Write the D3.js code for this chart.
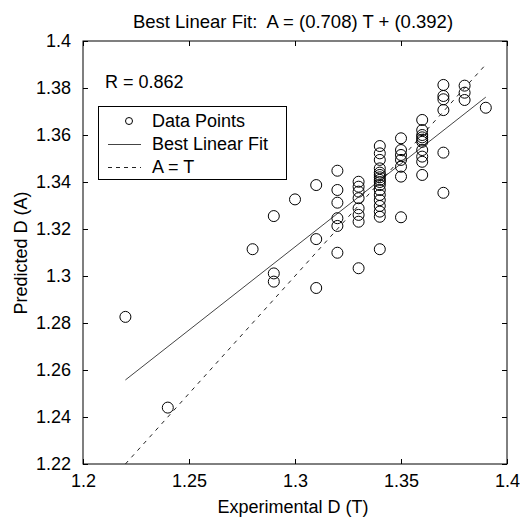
<!DOCTYPE html>
<html>
<head>
<meta charset="utf-8">
<script src="https://cdn.jsdelivr.net/npm/d3@7"></script>
<style>
  body { margin: 0; background: #fff; }
  svg { display: block; font-family: "Liberation Sans", Arial, sans-serif; }
</style>
</head>
<body>
<svg id="chart"></svg>
<script>
// experimental D (T) and predicted D (A)
var expT = [
  1.22, 1.24, 1.28,
  1.29, 1.29, 1.29,
  1.30,
  1.31, 1.31, 1.31,
  1.32, 1.32, 1.32, 1.32, 1.32, 1.32,
  1.33, 1.33, 1.33, 1.33, 1.33, 1.33, 1.33, 1.33,
  1.34, 1.34, 1.34, 1.34, 1.34, 1.34, 1.34, 1.34, 1.34, 1.34, 1.34, 1.34, 1.34, 1.34, 1.34, 1.34, 1.34,
  1.35, 1.35, 1.35, 1.35, 1.35, 1.35, 1.35,
  1.36, 1.36, 1.36, 1.36, 1.36, 1.36, 1.36, 1.36, 1.36, 1.36,
  1.37, 1.37, 1.37, 1.37, 1.37, 1.37,
  1.38, 1.38, 1.38,
  1.39
];
var predA = [
  1.2826, 1.2440, 1.3114,
  1.3255, 1.3011, 1.2976,
  1.3326,
  1.3387, 1.3157, 1.2949,
  1.3448, 1.3366, 1.3312, 1.3246, 1.3213, 1.3099,
  1.3401, 1.3380, 1.3359, 1.3331, 1.3288, 1.3260, 1.3231, 1.3033,
  1.3553, 1.3522, 1.3494, 1.3458, 1.3440, 1.3430, 1.3420, 1.3409, 1.3400, 1.3387, 1.3366, 1.3345, 1.3323, 1.3298, 1.3274, 1.3252, 1.3114,
  1.3586, 1.3536, 1.3515, 1.3494, 1.3465, 1.3423, 1.3250,
  1.3664, 1.3621, 1.3600, 1.3590, 1.3580, 1.3571, 1.3536, 1.3508, 1.3486, 1.3430,
  1.3813, 1.3766, 1.3752, 1.3706, 1.3525, 1.3354,
  1.3810, 1.3780, 1.3749,
  1.3716
];
var xTicks = [1.2, 1.25, 1.3, 1.35, 1.4];
var yTicks = [1.22, 1.24, 1.26, 1.28, 1.3, 1.32, 1.34, 1.36, 1.38, 1.4];
var fitSlope = 0.708, fitIntercept = 0.392, rValue = 0.862;
var fitRange = [1.22, 1.39];
var legendLabels = ["Data Points", "Best Linear Fit", "A = T"];

var svgWidth = 520, svgHeight = 519;
var plotL = 83, plotR = 507, plotT = 41, plotB = 464;
var fontSize = 18, tickLen = 5;

var svg = d3.select('#chart')
  .attr("width", svgWidth)
  .attr("height", svgHeight);

var xScale = d3.scaleLinear().domain([1.2, 1.4]).range([plotL, plotR]);
var yScale = d3.scaleLinear().domain([1.22, 1.4]).range([plotB, plotT]);

// axes, ticks inside on all four sides (matlab box)
var fmt = function(d){ return String(+d.toFixed(2)); };

svg.append("g")
  .attr("transform", `translate(0,${plotB})`)
  .call(d3.axisBottom(xScale).tickValues(xTicks).tickSizeInner(-tickLen).tickSizeOuter(0).tickPadding(10).tickFormat(fmt));
svg.append("g")
  .attr("transform", `translate(0,${plotT})`)
  .call(d3.axisTop(xScale).tickValues(xTicks).tickSizeInner(-tickLen).tickSizeOuter(0).tickFormat(""));
svg.append("g")
  .attr("transform", `translate(${plotL},0)`)
  .call(d3.axisLeft(yScale).tickValues(yTicks).tickSizeInner(-tickLen).tickSizeOuter(0).tickPadding(12).tickFormat(fmt));
svg.append("g")
  .attr("transform", `translate(${plotR},0)`)
  .call(d3.axisRight(yScale).tickValues(yTicks).tickSizeInner(-tickLen).tickSizeOuter(0).tickFormat(""));

svg.selectAll(".domain").remove();
svg.selectAll(".tick line").attr("stroke", "#000");
svg.selectAll(".tick text")
  .attr("font-family", "Liberation Sans, Arial, sans-serif")
  .attr("font-size", fontSize)
  .attr("fill", "#000");

svg.append("rect")
  .attr("x", plotL).attr("y", plotT)
  .attr("width", plotR - plotL).attr("height", plotB - plotT)
  .attr("fill", "none").attr("stroke", "#000").attr("stroke-width", 1);

// A = T reference line
svg.append("line")
  .attr("x1", xScale(fitRange[0])).attr("y1", yScale(fitRange[0]))
  .attr("x2", xScale(fitRange[1])).attr("y2", yScale(fitRange[1]))
  .attr("stroke", "#222").attr("stroke-dasharray", "4,5");

// best linear fit
svg.append("line")
  .attr("x1", xScale(fitRange[0])).attr("y1", yScale(fitSlope * fitRange[0] + fitIntercept))
  .attr("x2", xScale(fitRange[1])).attr("y2", yScale(fitSlope * fitRange[1] + fitIntercept))
  .attr("stroke", "#444");

// data points
svg.selectAll("circle.pt")
  .data(expT)
  .enter()
  .append("circle")
  .attr("class", "pt")
  .attr("cx", function(d){ return xScale(d); })
  .attr("cy", function(d, i){ return yScale(predA[i]); })
  .attr("r", 5.5)
  .attr("fill", "none")
  .attr("stroke", "#000");

// R text
svg.append("text")
  .attr("x", 105).attr("y", 88)
  .attr("font-size", fontSize)
  .text("R = " + rValue);

// legend
var lg = svg.append("g");
lg.append("rect")
  .attr("x", 98.5).attr("y", 106.5)
  .attr("width", 188).attr("height", 73)
  .attr("fill", "#fff").attr("stroke", "#000");
lg.selectAll("text")
  .data(legendLabels)
  .enter()
  .append("text")
  .attr("x", 152)
  .attr("y", function(d, i){ return 127 + i * 23; })
  .attr("font-size", fontSize)
  .text(function(d){ return d; });
lg.append("circle")
  .attr("cx", 129).attr("cy", 121).attr("r", 3.5)
  .attr("fill", "none").attr("stroke", "#000");
lg.append("line")
  .attr("x1", 108).attr("x2", 141).attr("y1", 144.5).attr("y2", 144.5)
  .attr("stroke", "#444");
lg.append("line")
  .attr("x1", 108).attr("x2", 141).attr("y1", 167.5).attr("y2", 167.5)
  .attr("stroke", "#222").attr("stroke-dasharray", "4,4");

// title and axis labels
svg.append("text")
  .attr("x", 293).attr("y", 28)
  .attr("text-anchor", "middle")
  .attr("font-size", 18.5)
  .attr("xml:space", "preserve")
  .text("Best Linear Fit:  A = (" + fitSlope + ") T + (" + fitIntercept + ")");
svg.append("text")
  .attr("x", 293).attr("y", 513)
  .attr("text-anchor", "middle")
  .attr("font-size", fontSize)
  .text("Experimental D (T)");
svg.append("text")
  .attr("transform", "translate(27,253) rotate(-90)")
  .attr("text-anchor", "middle")
  .attr("font-size", fontSize)
  .text("Predicted D (A)");
</script>
</body>
</html>
